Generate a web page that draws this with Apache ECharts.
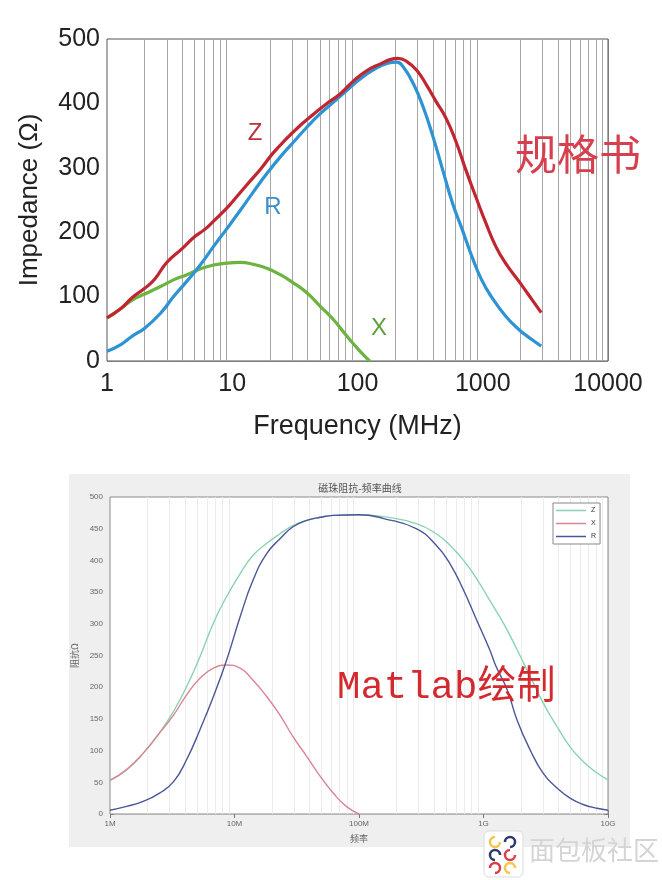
<!DOCTYPE html>
<html><head><meta charset="utf-8">
<script src="https://cdn.jsdelivr.net/npm/echarts@6/dist/echarts.min.js"></script>
<style>html,body{margin:0;padding:0;background:#fff}#c{width:662px;height:880px}</style>
</head><body><div id="c"></div>
<script>
// ---------- Top chart (规格书), frequency in MHz ----------
const specZ = [[1,67],[1.3,82],[1.6,99],[2.0,113],[2.4,127],[3.0,153],[4.0,175],[5.0,193],[6.0,204],[7.0,216],[9.0,237],[10,247],[13,273],[17,299],[21,322],[27,345],[35,366],[45,384],[57,400],[73,415],[93,435],[119,451],[151,461],[182,468],[210,470],[248,465],[298,451],[357,428],[427,402],[512,376],[613,340],[735,296],[880,255],[1060,214],[1270,178],[1520,152],[1940,124],[2480,95],[2930,75]];
const specR = [[1,15],[1.3,26],[1.6,39],[2.0,51],[2.7,75],[3.4,100],[4.35,124],[5.55,149],[7.1,178],[9.1,206],[11.6,234],[14.8,263],[18.9,291],[24.2,317],[30.9,340],[39.4,363],[50.4,384],[64.4,402],[82,420],[105,438],[134,452],[172,462],[206,464],[233,456],[280,430],[335,394],[401,348],[480,296],[574,245],[686,204],[820,162],[980,126],[1170,100],[1520,70],[1940,49],[2480,33],[2930,23]];
const specX = [[1,67],[1.3,82],[1.6,95],[2.0,104],[2.7,116],[3.4,126],[4.35,134],[5.55,143],[7.1,149],[9.1,152],[11.6,153],[14.8,150],[18.9,144],[24.2,134],[30.9,121],[39.4,106],[50.4,85],[64.4,64],[82,39],[105,15],[125,0]];
const topYTicks = [0,100,200,300,400,500];
const topXTickLabels = ['1','10','100','1000','10000'];
// ---------- Bottom chart (Matlab绘制), frequency in MHz ----------
const matZ = [[1,53],[1.36,70],[1.85,96],[2.5,128],[3.24,162],[4.13,201],[5.28,248],[6.76,301],[8.65,343],[11.1,379],[14.1,408],[18.2,427],[23.2,442],[29.5,455],[38,463],[49,468],[62,471],[100,472],[158,469],[288,458],[417,442],[537,424],[692,400],[881,371],[1122,337],[1445,301],[1862,259],[2371,217],[3020,175],[3890,138],[4955,106],[6310,83],[8130,65],[10000,54]];
const matX = [[1,53],[1.36,70],[1.85,96],[2.5,128],[3.24,156],[4.13,188],[5.28,214],[6.76,230],[8.65,235],[11.1,230],[14.1,211],[18.2,185],[23.2,156],[29.5,122],[38,91],[49,59],[62,33],[79,12],[100,0]];
const matR = [[1,6],[1.36,12],[1.85,20],[2.5,33],[3.24,51],[4.13,86],[5.28,133],[6.76,185],[8.65,243],[11.1,311],[14.1,369],[18.2,411],[23.2,434],[29.5,453],[38,463],[49,468],[62,471],[100,472],[158,466],[288,450],[417,424],[537,395],[692,353],[881,306],[1122,259],[1260,233],[1549,196],[1862,148],[2371,101],[3020,64],[3890,41],[4955,25],[6310,15],[8130,9],[10000,6]];
const matXTickLabels = {1:'1M',10:'10M',100:'100M',1000:'1G',10000:'10G'};
// minor grid positions (log decades)
const decades = [1,10,100,1000];
const minorMult = [2,3,4,5,6,7,8,9];
const minorLines = [];
decades.forEach(d => minorMult.forEach(m => minorLines.push(m*d)));

const chart = echarts.init(document.getElementById('c'), null, {renderer:'canvas'});
const sans = "'Liberation Sans', Arial, sans-serif";
const cjk = "'Noto Sans CJK SC', sans-serif";

const option = {
  animation: false,
  backgroundColor: '#ffffff',
  grid: [
    {left:107, top:39, width:501, height:322, show:true, borderColor:'#555', borderWidth:1, backgroundColor:'#fff', z:1},
    {left:110, top:497, width:498, height:317, show:true, borderColor:'#8a8a8a', borderWidth:1, backgroundColor:'#fff', z:1}
  ],
  legend: {
    data: ['Z','X','R'],
    orient: 'vertical', left: 553, top: 503,
    icon: 'rect',
    itemWidth: 30, itemHeight: 1.5, itemGap: 6,
    padding: [4,4,4,3],
    backgroundColor: '#fff', borderColor: '#888', borderWidth: 1,
    textStyle: {fontSize: 7, color: '#333', fontFamily: sans}
  },
  xAxis: [
    {type:'log', logBase:10, min:1, max:10000, gridIndex:0,
     axisLine:{show:false}, axisTick:{show:false},
     axisLabel:{fontSize:25, color:'#222', fontFamily:sans, margin:11, formatter: v => topXTickLabels[Math.round(Math.log10(v))]},
     splitLine:{show:true, lineStyle:{color:'#a6a6a6', width:1}},
     name:'Frequency (MHz)', nameLocation:'middle', nameGap:52,
     nameTextStyle:{fontSize:27, color:'#222', fontFamily:sans}},
    {type:'log', logBase:10, min:1, max:10000, gridIndex:1,
     axisLine:{show:false}, axisTick:{show:true, inside:true, length:4, lineStyle:{color:'#777'}},
     axisLabel:{fontSize:8, color:'#666', fontFamily:sans, margin:6, formatter: v => matXTickLabels[Math.round(v)]},
     splitLine:{show:true, lineStyle:{color:'#dedede', width:1}},
     name:'频率', nameLocation:'middle', nameGap:20,
     nameTextStyle:{fontSize:9, color:'#666', fontFamily:cjk}},
    {type:'log', logBase:10, min:1, max:10000, gridIndex:1, position:'top',
     axisLine:{show:false}, axisTick:{show:true, inside:true, length:4, lineStyle:{color:'#777'}},
     axisLabel:{show:false}, splitLine:{show:false}}
  ],
  yAxis: [
    {type:'value', min:0, max:500, interval:100, gridIndex:0,
     axisLine:{show:false}, axisTick:{show:false},
     axisLabel:{fontSize:25, color:'#222', fontFamily:sans, margin:7},
     splitLine:{show:true, lineStyle:{color:'#a6a6a6', width:1}},
     name:'Impedance (Ω)', nameLocation:'middle', nameGap:64,
     nameTextStyle:{fontSize:26, color:'#222', fontFamily:sans}},
    {type:'value', min:0, max:500, interval:50, gridIndex:1,
     axisLine:{show:false}, axisTick:{show:true, inside:true, length:4, lineStyle:{color:'#777'}},
     axisLabel:{fontSize:8, color:'#666', fontFamily:sans, margin:7},
     splitLine:{show:true, lineStyle:{color:'#dedede', width:1}},
     name:'阻抗Ω', nameLocation:'middle', nameGap:27,
     nameTextStyle:{fontSize:9, color:'#666', fontFamily:cjk}},
    {type:'value', min:0, max:500, interval:50, gridIndex:1, position:'right',
     axisLine:{show:false}, axisTick:{show:true, inside:true, length:4, lineStyle:{color:'#777'}},
     axisLabel:{show:false}, splitLine:{show:false}}
  ],
  series: [
    {name:'top-grid', type:'line', xAxisIndex:0, yAxisIndex:0, data:[], z:1, silent:true,
     markLine:{z:1, silent:true, symbol:['none','none'], label:{show:false}, animation:false,
       lineStyle:{color:'#a6a6a6', width:1, type:'solid'}, emphasis:{disabled:true},
       data: minorLines.map(v => ({xAxis:v}))}},
    {name:'bottom-grid', type:'line', xAxisIndex:1, yAxisIndex:1, data:[], z:1, silent:true,
     markLine:{z:1, silent:true, symbol:['none','none'], label:{show:false}, animation:false,
       lineStyle:{color:'#ececec', width:1, type:'solid'}, emphasis:{disabled:true},
       data: minorLines.map(v => ({xAxis:v}))}},
    {name:'规格书 X', type:'line', xAxisIndex:0, yAxisIndex:0, data:specX, smooth:true, showSymbol:false, symbol:'none', z:3,
     lineStyle:{color:'#6cb33f', width:3.2}},
    {name:'规格书 R', type:'line', xAxisIndex:0, yAxisIndex:0, data:specR, smooth:true, showSymbol:false, symbol:'none', z:4,
     lineStyle:{color:'#2d93d2', width:3.2}},
    {name:'规格书 Z', type:'line', xAxisIndex:0, yAxisIndex:0, data:specZ, smooth:true, showSymbol:false, symbol:'none', z:5,
     lineStyle:{color:'#c0262f', width:3.2}},
    {name:'Z', type:'line', xAxisIndex:1, yAxisIndex:1, data:matZ, smooth:true, showSymbol:false, symbol:'none', z:3,
     color:'#8ad3b2', lineStyle:{color:'#8ad3b2', width:1.4}},
    {name:'X', type:'line', xAxisIndex:1, yAxisIndex:1, data:matX, smooth:true, showSymbol:false, symbol:'none', z:4,
     color:'#d98593', lineStyle:{color:'#d98593', width:1.4}},
    {name:'R', type:'line', xAxisIndex:1, yAxisIndex:1, data:matR, smooth:true, showSymbol:false, symbol:'none', z:5,
     color:'#4b5697', lineStyle:{color:'#4b5697', width:1.4}}
  ],
  graphic: [
    {type:'rect', z:-10, silent:true, shape:{x:69, y:474, width:561, height:373}, style:{fill:'#efefef'}},
    {type:'text', z:100, x:255, y:133, style:{text:'Z', font:"24px 'Liberation Sans', Arial", fill:'#b9343c', align:'center', verticalAlign:'middle'}},
    {type:'text', z:100, x:273, y:207, style:{text:'R', font:"24px 'Liberation Sans', Arial", fill:'#3a8fcd', align:'center', verticalAlign:'middle'}},
    {type:'text', z:100, x:379, y:328, style:{text:'X', font:"24px 'Liberation Sans', Arial", fill:'#5e9e3b', align:'center', verticalAlign:'middle'}},
    {type:'text', z:100, x:578, y:154, style:{text:'规格书', font:"42px 'Noto Sans CJK SC'", fill:'#d63f4d', align:'center', verticalAlign:'middle'}},
    {type:'text', z:100, x:360, y:488, style:{text:'磁珠阻抗-频率曲线', font:"10px 'Noto Sans CJK SC'", fill:'#555', align:'center', verticalAlign:'middle'}},
    {type:'text', z:100, x:337, y:688, style:{text:'Matlab绘制', font:"39px 'Liberation Mono', 'Noto Sans CJK SC'", fill:'#d42a2f', align:'left', verticalAlign:'middle'}},
    {type:'rect', z:100, silent:true, shape:{x:484, y:831, width:39, height:46, r:5}, style:{fill:'#fff', stroke:'#dcdcdc', lineWidth:1}},
    {type:'arc', z:101, shape:{cx:495, cy:842, r:5, startAngle:0, endAngle:Math.PI*1.5}, style:{stroke:'#f2c84b', fill:null, lineWidth:2.5}},
    {type:'arc', z:101, shape:{cx:510, cy:842, r:5, startAngle:Math.PI, endAngle:Math.PI*2.5}, style:{stroke:'#2d3a6e', fill:null, lineWidth:2.5}},
    {type:'arc', z:101, shape:{cx:495, cy:855, r:5, startAngle:Math.PI*0.5, endAngle:Math.PI*2}, style:{stroke:'#2d3a6e', fill:null, lineWidth:2.5}},
    {type:'arc', z:101, shape:{cx:510, cy:855, r:5, startAngle:0, endAngle:Math.PI*1.5}, style:{stroke:'#d9404a', fill:null, lineWidth:2.5}},
    {type:'arc', z:101, shape:{cx:495, cy:868, r:5, startAngle:Math.PI, endAngle:Math.PI*2.5}, style:{stroke:'#d9404a', fill:null, lineWidth:2.5}},
    {type:'arc', z:101, shape:{cx:510, cy:868, r:5, startAngle:Math.PI*0.5, endAngle:Math.PI*2}, style:{stroke:'#f2c84b', fill:null, lineWidth:2.5}},
    {type:'text', z:100, x:529, y:850, style:{text:'面包板社区', font:"26px 'Noto Sans CJK SC'", fill:'#d4d4d4', align:'left', verticalAlign:'middle'}}
  ]
};
chart.setOption(option);
</script></body></html>
